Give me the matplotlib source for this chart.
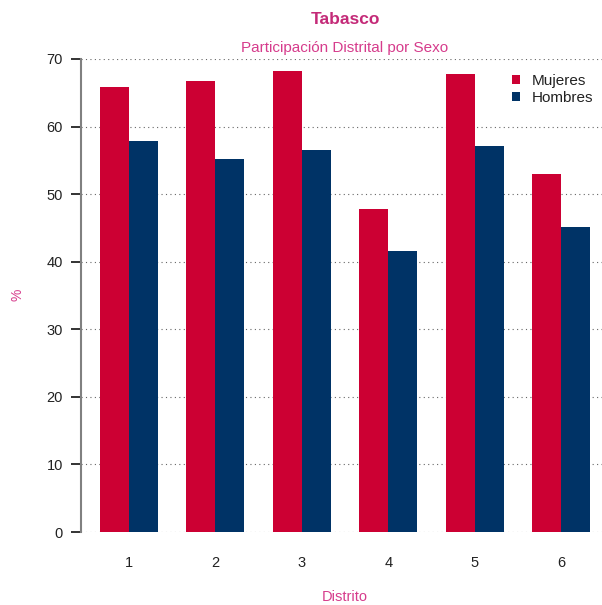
import matplotlib
matplotlib.use("Agg")
import matplotlib.pyplot as plt
import numpy as np

plt.rcParams['font.family'] = ['Liberation Sans', 'DejaVu Sans']

distritos = ["1", "2", "3", "4", "5", "6"]
mujeres = [65.9, 66.8, 68.2, 47.8, 67.8, 53.0]
hombres = [57.9, 55.2, 56.5, 41.6, 57.1, 45.1]
series_labels = ["Mujeres", "Hombres"]
colors = ["#CC0033", "#003366"]
title_color = "#C42A78"
label_color = "#D63C8C"

W, H = 602, 605
fig = plt.figure(figsize=(W/100, H/100), dpi=100)
ax_left, ax_right, ax_top, ax_bottom = 81, 602, 59, 532
ax = fig.add_axes([ax_left/W, (H-ax_bottom)/H, (ax_right-ax_left)/W, (ax_bottom-ax_top)/H])

x = np.arange(1, len(distritos) + 1)
bw = 0.335
ax.bar(x - bw/2, mujeres, width=bw, color=colors[0], label=series_labels[0], zorder=3)
ax.bar(x + bw/2, hombres, width=bw, color=colors[1], label=series_labels[1], zorder=3)

ax.set_xlim(0.445, 6.47)
ax.set_ylim(0, 70)
ax.set_yticks(range(0, 71, 10))
ax.set_xticks(x)
ax.set_xticklabels(distritos)
ax.tick_params(axis='x', length=0, pad=17, labelsize=10.5, colors='#222222')
ax.tick_params(axis='y', length=7, width=1.2, color='#111111', pad=6, labelsize=10.5, labelcolor='#222222')
ax.yaxis.grid(True, linestyle=(0, (1, 3)), color='#666666', linewidth=0.8, zorder=0)
for s in ['top', 'right', 'bottom']:
    ax.spines[s].set_visible(False)
ax.spines['left'].set_color('#808080')
ax.spines['left'].set_linewidth(1.5)

fig.text(17/W, 1 - 295/H, "%", rotation=90, ha='center', va='center',
         fontsize=10, color=label_color)
fig.text(345/W, 1 - 597/H, "Distrito", ha='center', va='center',
         fontsize=10.5, color=label_color)

fig.text(345/W, 1 - 20/H, "Tabasco", ha='center', va='center',
         fontsize=12.5, fontweight='bold', color=title_color)
fig.text(345/W, 1 - 48/H, "Participación Distrital por Sexo", ha='center', va='center',
         fontsize=11, color=label_color)

leg = ax.legend(loc='upper left', bbox_to_anchor=((507 - ax_left)/(ax_right-ax_left), 0.978),
                frameon=False, fontsize=11,
                handlelength=0.55, handleheight=0.55, handletextpad=0.75, labelspacing=0.2,
                borderaxespad=0.0, borderpad=0.3)
for t in leg.get_texts():
    t.set_color('#222222')

fig.savefig("out.png", dpi=100)
